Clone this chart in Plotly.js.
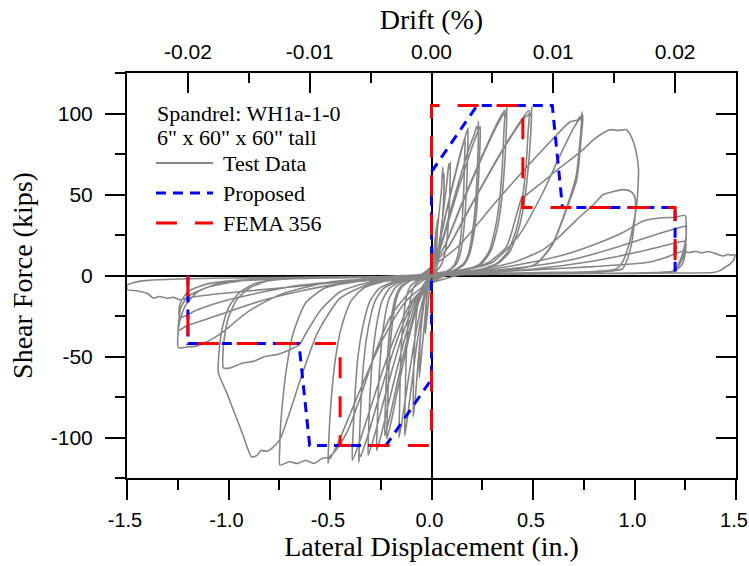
<!DOCTYPE html>
<html>
<head>
<meta charset="utf-8">
<script src="https://cdn.plot.ly/plotly-3.0.1.min.js"></script>
<style>html,body{margin:0;padding:0;background:#fff;}#chart{width:749px;height:566px;}</style>
</head>
<body>
<div id="chart"></div>
<script>
// ---- tick labels ----
const dispTicks = [-1.5, -1.0, -0.5, 0, 0.5, 1.0, 1.5];
const dispTickText = ['-1.5', '-1.0', '-0.5', '0.0', '0.5', '1.0', '1.5'];
const forceTicks = [-100, -50, 0, 50, 100];
const forceTickText = ['-100', '-50', '0', '50', '100'];
const driftTicks = [-0.02, -0.01, 0, 0.01, 0.02];
const driftTickText = ['-0.02', '-0.01', '0.00', '0.01', '0.02'];

// ---- backbone models (displacement in., shear kips) ----
const proposedDisp  = [-1.2, -1.2, -0.653, -0.6, -0.225, 0, 0, 0.225, 0.595, 0.645, 1.2, 1.2];
const proposedForce = [0, -42, -42, -105, -105, -64, 64, 105, 105, 42, 42, 0];
const femaDisp  = [-1.2, -1.2, -0.45, -0.45, 0, 0, 0.45, 0.45, 1.2, 1.2];
const femaForce = [0, -42, -42, -105, -105, 105, 105, 42, 42, 0];

// ---- test data, cycle by cycle: [displacement, shear] ----
const testLoop01 = [[0,0],[0.01,13],[0.02,25],[0.03,35],[0.027,22],[0.018,8],[0.008,2],[0,0.5],[-0.005,-2],[-0.012,-12],[-0.022,-25],[-0.03,-36],[-0.027,-22],[-0.017,-7],[-0.007,-2],[0,-0.5]];
const testLoop02 = [[0.005,3],[0.02,18],[0.035,36],[0.05,54],[0.055,67],[0.058,60],[0.062,63],[0.06,48],[0.05,28],[0.035,10],[0.02,3],[0.005,1],[-0.005,-1],[-0.02,-10],[-0.035,-30],[-0.05,-50],[-0.06,-63],[-0.057,-45],[-0.045,-22],[-0.03,-7],[-0.015,-2],[0,-0.8]];
const testLoop03 = [[0.01,2],[0.025,10],[0.045,26],[0.065,46],[0.078,60],[0.085,69],[0.09,66],[0.093,70],[0.091,55],[0.085,36],[0.072,18],[0.05,7],[0.02,2],[-0.01,-1.5],[-0.025,-8],[-0.045,-25],[-0.065,-52],[-0.08,-76],[-0.09,-87],[-0.089,-68],[-0.084,-44],[-0.072,-22],[-0.05,-8],[-0.02,-2]];
const testLoop04 = [[0.007,6.8],[0.03,15.3],[0.066,35.7],[0.099,53.6],[0.132,70.6],[0.152,79.9],[0.165,85],[0.163,72],[0.16,57],[0.153,38],[0.144,24],[0.129,12],[0.109,6],[0.074,2.5],[0.033,1.3],[-0.007,-5],[-0.033,-13.9],[-0.059,-31.7],[-0.082,-51.5],[-0.103,-72.3],[-0.119,-88.1],[-0.132,-99],[-0.131,-84],[-0.128,-66],[-0.123,-45],[-0.115,-28],[-0.103,-14],[-0.087,-7],[-0.059,-3],[-0.026,-1.5]];
const testLoop05 = [[0.007,7.3],[0.032,16.4],[0.072,38.2],[0.108,57.3],[0.144,75.5],[0.166,85.5],[0.18,91],[0.178,77],[0.175,61],[0.167,41],[0.157,25.5],[0.14,12.7],[0.119,6.4],[0.081,2.7],[0.036,1.4],[-0.008,-5],[-0.04,-14],[-0.072,-32],[-0.099,-52],[-0.125,-73],[-0.144,-89],[-0.16,-100],[-0.158,-85],[-0.155,-67],[-0.149,-45],[-0.139,-28],[-0.125,-14],[-0.106,-7],[-0.072,-3],[-0.032,-1.5]];
const testLoop06 = [[0.009,7.6],[0.042,17.1],[0.093,39.9],[0.139,59.9],[0.186,78.9],[0.213,88],[0.222,92],[0.228,90],[0.232,95],[0.23,81],[0.225,64],[0.216,43],[0.202,27],[0.181,13],[0.153,6.7],[0.104,2.9],[0.046,1.4],[-0.011,-5],[-0.055,-14.1],[-0.099,-32.3],[-0.136,-52.5],[-0.172,-73.7],[-0.198,-89.9],[-0.22,-101],[-0.218,-86],[-0.213,-68],[-0.205,-45],[-0.191,-28],[-0.172,-14],[-0.145,-7],[-0.099,-3],[-0.044,-1.5]];
const testLoop07 = [[0.01,7.4],[0.043,16.6],[0.096,38.6],[0.144,58],[0.192,76.4],[0.221,86.5],[0.24,92],[0.238,78],[0.233,62],[0.223,41],[0.209,26],[0.187,13],[0.158,6.4],[0.108,2.8],[0.048,1.4],[-0.012,-5],[-0.058,-13.9],[-0.104,-31.7],[-0.143,-51.5],[-0.179,-72.3],[-0.207,-88.1],[-0.23,-99],[-0.228,-84],[-0.223,-66],[-0.214,-45],[-0.2,-28],[-0.179,-14],[-0.152,-7],[-0.104,-3],[-0.046,-1.5]];
const testLoop08 = [[0.015,8.3],[0.067,18.7],[0.149,43.7],[0.223,65.5],[0.298,86.3],[0.342,97],[0.358,100],[0.365,98],[0.372,104],[0.368,88],[0.361,70],[0.346,47],[0.324,29],[0.29,14.6],[0.246,7.3],[0.167,3.1],[0.074,1.6],[-0.014,-5.4],[-0.068,-15.1],[-0.122,-34.6],[-0.167,-56.2],[-0.211,-78.8],[-0.243,-96.1],[-0.27,-108],[-0.267,-92],[-0.262,-72],[-0.251,-49],[-0.235,-30],[-0.211,-15],[-0.178,-7.5],[-0.122,-3],[-0.054,-1.5]];
const testLoop09 = [[0.014,8.2],[0.065,18.4],[0.144,42.8],[0.216,64.3],[0.288,84.7],[0.331,95.9],[0.36,102],[0.356,87],[0.349,68],[0.335,46],[0.313,28.6],[0.281,14.3],[0.238,7.1],[0.162,3],[0.072,1.5],[-0.016,-5.6],[-0.078,-15.5],[-0.14,-35.5],[-0.193,-57.7],[-0.243,-81],[-0.281,-98.8],[-0.312,-111],[-0.309,-94],[-0.303,-74],[-0.29,-50],[-0.271,-31],[-0.243,-15.5],[-0.206,-7.8],[-0.14,-3.3],[-0.062,-1.6]];
const testLoop10 = [[0.02,8.3],[0.089,18.7],[0.198,43.7],[0.296,65.5],[0.395,86.3],[0.455,97],[0.475,99],[0.485,100],[0.49,98],[0.494,104],[0.489,88],[0.479,70],[0.459,47],[0.43,29],[0.385,14.6],[0.326,7.3],[0.222,3.1],[0.099,1.6],[-0.018,-5.8],[-0.09,-16.1],[-0.161,-36.8],[-0.222,-59.8],[-0.279,-84],[-0.322,-102],[-0.35,-112],[-0.355,-110],[-0.358,-115],[-0.354,-98],[-0.347,-77],[-0.333,-52],[-0.311,-32],[-0.279,-16],[-0.236,-8],[-0.161,-3.5],[-0.072,-1.7]];
const testLoop11 = [[0.019,8.2],[0.086,18.4],[0.192,42.8],[0.288,64.3],[0.384,84.7],[0.442,95.9],[0.48,102],[0.475,87],[0.466,68],[0.446,46],[0.418,28.6],[0.374,14.3],[0.317,7.1],[0.216,3],[0.096,1.5],[-0.02,-5.7],[-0.098,-16],[-0.176,-36.5],[-0.242,-59.3],[-0.304,-83.2],[-0.351,-101.5],[-0.39,-114],[-0.386,-97],[-0.378,-76],[-0.363,-51],[-0.339,-32],[-0.304,-16],[-0.257,-8],[-0.176,-3.4],[-0.078,-1.7]];
const testLoop12 = [[0.03,8],[0.134,18.2],[0.297,42.4],[0.445,63.6],[0.594,83.8],[0.683,94.9],[0.72,96],[0.73,98],[0.735,96],[0.742,101],[0.735,88],[0.712,61],[0.66,40],[0.594,19],[0.512,7],[0.371,3],[0.186,1.5],[-0.026,-5.8],[-0.128,-16.2],[-0.23,-37],[-0.316,-60],[-0.398,-84.7],[-0.459,-103],[-0.5,-113],[-0.505,-112],[-0.51,-116],[-0.505,-99],[-0.495,-78],[-0.474,-52],[-0.444,-32],[-0.398,-16],[-0.337,-8],[-0.23,-3.5],[-0.102,-1.7]];
const testLoop13 = [[0.149,3],[0.298,8],[0.432,25],[0.544,50],[0.633,74],[0.7,91],[0.745,99],[0.738,86],[0.715,59],[0.663,40],[0.596,19],[0.514,7],[0.373,3],[0.186,1.5],[-0.025,-2],[-0.1,-9],[-0.2,-25],[-0.275,-47],[-0.35,-75],[-0.41,-95],[-0.46,-106],[-0.505,-112],[-0.54,-113],[-0.58,-116],[-0.62,-114],[-0.66,-116],[-0.7,-115],[-0.746,-117],[-0.747,-105],[-0.745,-96],[-0.735,-80],[-0.715,-58],[-0.68,-35],[-0.62,-17],[-0.53,-8],[-0.38,-4],[-0.2,-2],[-0.05,-1]];
const testLoop14 = [[0.02,1.5],[0.15,3.5],[0.28,8],[0.37,18],[0.42,38],[0.445,48],[0.47,50],[0.52,55],[0.57,60],[0.617,65],[0.68,71],[0.747,77.8],[0.8,84],[0.845,88],[0.88,90],[0.92,89.5],[0.96,90],[0.99,84],[1.01,75],[1.02,65],[1.012,45],[0.995,32],[0.97,18],[0.94,8],[0.91,4],[0.8,2.5],[0.55,1.8],[0.25,1.2],[0.05,0.5],[-0.1,-2],[-0.3,-5],[-0.45,-14],[-0.56,-35],[-0.64,-62],[-0.7,-85],[-0.746,-101],[-0.78,-106],[-0.81,-108.5],[-0.84,-108],[-0.86,-111],[-0.886,-112],[-0.93,-98],[-0.97,-85],[-1.01,-72],[-1.05,-60],[-1.045,-45],[-1.03,-32],[-1.0,-20],[-0.95,-11],[-0.87,-5],[-0.75,-2.5],[-0.5,-1.5],[-0.2,-1]];
const testLoop15 = [[0.02,1.5],[0.2,3],[0.4,8],[0.55,16],[0.63,24],[0.72,35],[0.8,44],[0.846,50],[0.9,52],[0.945,53],[0.98,52],[1.0,49],[1.005,40],[0.995,28],[0.986,20],[0.965,10],[0.94,4],[0.85,2.5],[0.6,1.8],[0.3,1.2],[0.05,0.5],[-0.1,-1.5],[-0.3,-4],[-0.45,-10],[-0.55,-22],[-0.62,-36],[-0.65,-42.6],[-0.7,-46],[-0.76,-48.8],[-0.82,-50],[-0.878,-53],[-0.93,-54],[-0.99,-57],[-1.025,-57],[-1.028,-50],[-1.02,-38],[-1.0,-26],[-0.96,-15],[-0.9,-8],[-0.8,-3],[-0.6,-1.5],[-0.3,-1]];
const testLoop16 = [[0.02,1],[0.2,2.5],[0.4,6],[0.63,12],[0.8,19],[0.95,27],[1.04,33.5],[1.12,35.5],[1.2,36],[1.25,37],[1.255,30],[1.254,24],[1.24,15],[1.22,8],[1.2,4],[1.175,2],[1.0,1.5],[0.6,1.2],[0.2,0.8],[0,0],[-0.2,-1.5],[-0.5,-4],[-0.75,-12],[-0.9,-22],[-1.04,-36],[-1.1,-40.5],[-1.157,-43.6],[-1.2,-44],[-1.247,-44.6],[-1.25,-38],[-1.24,-28],[-1.21,-18],[-1.15,-10],[-1.05,-5],[-0.85,-2],[-0.5,-1.5],[-0.2,-1]];
const testLoop17 = [[0.2,2],[0.45,5],[0.7,10],[0.9,17],[1.05,23],[1.15,27],[1.22,29.5],[1.25,30.4],[1.255,25],[1.25,18],[1.235,10],[1.21,5],[1.18,2],[1.0,1.5],[0.5,1],[0.1,0.5],[-0.2,-1.5],[-0.45,-5],[-0.65,-9.7],[-0.85,-16],[-1.04,-24],[-1.12,-27.5],[-1.206,-31],[-1.247,-34],[-1.245,-28],[-1.235,-20],[-1.2,-13],[-1.107,-7.4],[-0.95,-3.5],[-0.7,-2],[-0.3,-1]];
const testLoop18 = [[0.2,1.5],[0.5,4],[0.8,9],[1.0,14],[1.15,18.5],[1.25,21],[1.25,14],[1.235,7],[1.2,3],[1.1,1.8],[0.6,1.2],[0.1,0.5],[-0.3,-2],[-0.7,-7],[-1.0,-15],[-1.15,-21],[-1.24,-26],[-1.24,-18],[-1.2,-10],[-1.1,-5],[-0.8,-2],[-0.3,-1]];
const testLoop19 = [[0.2,1.5],[0.5,3.5],[0.8,5.5],[1.06,8],[1.15,11],[1.24,15],[1.27,14.2],[1.3,15],[1.33,14],[1.36,14.8],[1.4,13.5],[1.42,12.5],[1.436,12],[1.46,13],[1.48,12.5],[1.495,13],[1.49,10],[1.47,7],[1.454,5.7],[1.42,3],[1.387,1.8],[1.2,1.5],[0.8,1.2],[0.3,0.8],[0,0],[-0.2,-1.5],[-0.45,-4],[-0.65,-6.6],[-0.9,-9.5],[-1.1,-12],[-1.2,-13.8],[-1.24,-15],[-1.27,-13.5],[-1.3,-14],[-1.34,-13],[-1.37,-14],[-1.4,-11],[-1.45,-9.5],[-1.5,-8.6],[-1.5,-6],[-1.47,-4.5],[-1.4,-3],[-1.2,-2],[-0.8,-1.2],[-0.3,-0.6],[0,0]];

const testLoops = [testLoop01, testLoop02, testLoop03, testLoop04, testLoop05, testLoop06, testLoop07,
  testLoop08, testLoop09, testLoop10, testLoop11, testLoop12, testLoop13, testLoop14, testLoop15,
  testLoop16, testLoop17, testLoop18, testLoop19];

const testDisp = [], testForce = [];
testLoops.forEach(function (loop) {
  loop.forEach(function (p) { testDisp.push(p[0]); testForce.push(p[1]); });
});

const traces = [
  {x: testDisp, y: testForce, type: 'scatter', mode: 'lines', name: 'Test Data',
   line: {color: '#868686', width: 1.6, shape: 'spline', smoothing: 0.6, simplify: false}, hoverinfo: 'skip'},
  {x: proposedDisp, y: proposedForce, type: 'scatter', mode: 'lines', name: 'Proposed',
   line: {color: '#0000ff', width: 3, dash: '10px,7px'}},
  {x: femaDisp, y: femaForce, type: 'scatter', mode: 'lines', name: 'FEMA 356',
   line: {color: '#ff0000', width: 3, dash: '21px,18px'}},
  // invisible carriers so the drift (top) and mirrored (right) axes are drawn
  {x: driftTicks, y: driftTicks.map(function () { return 0; }), xaxis: 'x2', yaxis: 'y', type: 'scatter',
   mode: 'lines', opacity: 0, hoverinfo: 'skip', showlegend: false, line: {width: 0}},
  {x: forceTicks.map(function () { return 0; }), y: forceTicks, xaxis: 'x', yaxis: 'y2', type: 'scatter',
   mode: 'lines', opacity: 0, hoverinfo: 'skip', showlegend: false, line: {width: 0}}
];

const serif = 'Liberation Serif, Times New Roman, serif';
const sans = 'Liberation Sans, Arial, sans-serif';
const tickCommon = {tickcolor: 'black', tickwidth: 2, showline: true, linecolor: 'black', linewidth: 2,
  showgrid: false, tickfont: {family: sans, size: 21, color: 'black'}, automargin: false,
  ticklabeloverflow: 'allow'};

// legend drawn as text + sample lines in the upper-left corner
function px2x(p) { return (p - 127) / 609; }
function py2y(p) { return (478 - p) / 405; }
const legendText = ['Spandrel: WH1a-1-0', '6" x 60" x 60" tall', 'Test Data', 'Proposed', 'FEMA 356'];
const legendRows = [113, 137, 163, 193, 223];
const annotations = legendText.map(function (t, i) {
  return {text: t, xref: 'paper', yref: 'paper', x: px2x(i < 2 ? 155 : 221), y: py2y(legendRows[i]),
    xanchor: 'left', yanchor: 'middle', showarrow: false, font: {family: serif, size: 22, color: 'black'}};
});
const sampleStyles = [traces[0].line, traces[1].line, traces[2].line];
const shapes = sampleStyles.map(function (ln, i) {
  return {type: 'line', xref: 'paper', yref: 'paper', x0: px2x(156), x1: px2x(213),
    y0: py2y(legendRows[i + 2]), y1: py2y(legendRows[i + 2]),
    line: {color: ln.color, width: i === 0 ? 2 : 3, dash: ln.dash || 'solid'}};
});

const layout = {
  width: 749, height: 566,
  margin: {l: 127, r: 13, t: 73, b: 88, pad: 0},
  paper_bgcolor: 'white', plot_bgcolor: 'white',
  showlegend: false,
  font: {family: sans, color: 'black'},
  xaxis: Object.assign({}, tickCommon, {
    range: [-1.5, 1.5], tickmode: 'array', tickvals: dispTicks, ticktext: dispTickText,
    tickfont: {family: sans, size: 20, color: 'black'}, ticklabelshift: -2,
    ticks: 'outside', ticklen: 20, ticklabelstandoff: 3,
    minor: {tickmode: 'linear', tick0: 0, dtick: 0.25, ticks: 'outside', ticklen: 10, tickwidth: 2, tickcolor: 'black'},
    zeroline: true, zerolinecolor: 'black', zerolinewidth: 2,
    title: {text: 'Lateral Displacement (in.)', font: {family: serif, size: 28, color: 'black'}, standoff: 1}
  }),
  yaxis: Object.assign({}, tickCommon, {
    range: [-125, 125], tickmode: 'array', tickvals: forceTicks, ticktext: forceTickText,
    ticks: 'outside', ticklen: 20, ticklabelstandoff: 8,
    minor: {tickmode: 'linear', tick0: 0, dtick: 25, ticks: 'outside', ticklen: 10, tickwidth: 2, tickcolor: 'black'},
    zeroline: true, zerolinecolor: 'black', zerolinewidth: 2,
    title: {text: 'Shear Force (kips)', font: {family: serif, size: 28, color: 'black'}, standoff: 10}
  }),
  xaxis2: Object.assign({}, tickCommon, {
    overlaying: 'x', side: 'top', anchor: 'y',
    range: [-0.025, 0.025], tickmode: 'array', tickvals: driftTicks, ticktext: driftTickText,
    ticks: 'inside', ticklen: 20, ticklabelstandoff: 4,
    minor: {tickmode: 'linear', tick0: 0, dtick: 0.005, ticks: 'inside', ticklen: 10, tickwidth: 2, tickcolor: 'black'},
    zeroline: false,
    title: {text: 'Drift (%)', font: {family: serif, size: 28, color: 'black'}, standoff: 2}
  }),
  yaxis2: Object.assign({}, tickCommon, {
    overlaying: 'y', side: 'right', anchor: 'x',
    range: [-125, 125], tickmode: 'array', tickvals: forceTicks, showticklabels: false,
    ticks: 'inside', ticklen: 20,
    minor: {tickmode: 'linear', tick0: 0, dtick: 25, ticks: 'inside', ticklen: 10, tickwidth: 2, tickcolor: 'black'},
    zeroline: false
  }),
  annotations: annotations,
  shapes: shapes
};

Plotly.newPlot('chart', traces, layout, {displayModeBar: false, staticPlot: true});
</script>
</body>
</html>
